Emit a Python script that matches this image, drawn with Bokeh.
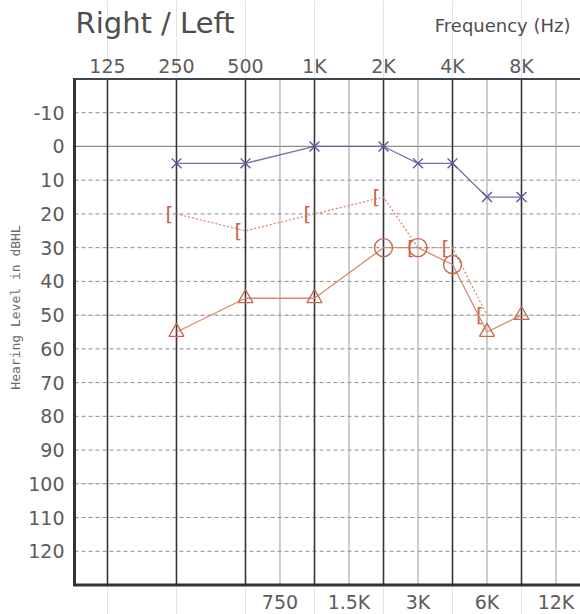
import math
from bokeh.plotting import figure
from bokeh.models import ColumnDataSource, Range1d, LinearAxis, FixedTicker
from bokeh.core.properties import value
from bokeh.embed import file_html
from bokeh.resources import INLINE

# ---------------- data ----------------
LEFT_AIR_HZ = [250, 500, 1000, 2000, 3000, 4000, 6000, 8000]
LEFT_AIR_DB = [5, 5, 0, 0, 5, 5, 15, 15]

RIGHT_BONE_HZ = [250, 500, 1000, 2000, 3000, 4000, 6000]
RIGHT_BONE_DB = [20, 25, 20, 15, 30, 30, 50]

RIGHT_AIR_HZ = [250, 500, 1000, 2000, 3000, 4000, 6000, 8000]
RIGHT_AIR_DB = [55, 45, 45, 30, 30, 35, 55, 50]
RIGHT_AIR_SYMBOL = ["triangle", "triangle", "triangle", "circle",
                    "circle", "circle", "triangle", "triangle"]

TOP_TICK_HZ = [125, 250, 500, 1000, 2000, 4000, 8000]
TOP_TICK_LABELS = ["125", "250", "500", "1K", "2K", "4K", "8K"]
BOTTOM_TICK_HZ = [750, 1500, 3000, 6000, 12000]
BOTTOM_TICK_LABELS = ["750", "1.5K", "3K", "6K", "12K"]
DB_TICKS = [-10, 0, 10, 20, 30, 40, 50, 60, 70, 80, 90, 100, 110, 120]
DB_DASHED = [-10, 10, 20, 30, 40, 50, 60, 70, 80, 90, 100, 110, 120]
DB_SOLID = [0]
DB_MIN, DB_MAX = -20, 130          # chart box limits (dB HL)


def aud_pos(hz):
    """Audiogram frequency scale: octaves from 125 Hz, inter-octave
    frequencies (750, 1.5K, 3K, 6K, 12K) drawn midway between octaves."""
    o = math.log2(hz / 125.0)
    if abs(o - round(o)) < 1e-9:
        return float(round(o))
    return math.floor(o) + 0.5


# ---------------- layout constants ----------------
CHART_LEFT = -0.478      # left edge of the printed chart box (octaves from 125 Hz)
CHART_RIGHT = 7.2        # box runs off the right edge of the page
TITLE_Y = -36.6
FREQ_TITLE_X, FREQ_TITLE_Y = 6.71, -36.0
TOP_LABEL_Y = -24.0
BOTTOM_LABEL_Y = 134.9

BLUE = "#5a5a9c"
RED = "#c8664c"
RED_LINE = "#d88a6c"
TEXT = "#4e4e4e"
TICK_TEXT = "#5c5c5c"
FONT = "DejaVu Sans"

p = figure(width=580, height=614, output_backend="svg", toolbar_location=None,
           x_range=Range1d(-0.536, 6.855), y_range=Range1d(138.75, -43.27),
           x_axis_location=None, y_axis_location=None,
           min_border_left=70, min_border_right=0, min_border_top=0,
           min_border_bottom=0, outline_line_color=None,
           background_fill_color="white", border_fill_color="white")

# ---------------- chart grid ----------------
oct_x = [aud_pos(h) for h in TOP_TICK_HZ]
half_x = [aud_pos(h) for h in BOTTOM_TICK_HZ]

p.segment(x0=[CHART_LEFT] * len(DB_DASHED), x1=[CHART_RIGHT] * len(DB_DASHED),
          y0=DB_DASHED, y1=DB_DASHED, line_color="#8c8c8c", line_width=1,
          line_dash="4 3")
p.segment(x0=[CHART_LEFT] * len(DB_SOLID), x1=[CHART_RIGHT] * len(DB_SOLID),
          y0=DB_SOLID, y1=DB_SOLID, line_color="#8c8c8c", line_width=1.2)
p.segment(x0=half_x, x1=half_x, y0=[DB_MIN] * len(half_x),
          y1=[DB_MAX] * len(half_x), line_color="#9c9c9c", line_width=1)
p.segment(x0=oct_x, x1=oct_x, y0=[DB_MIN] * len(oct_x),
          y1=[DB_MAX] * len(oct_x), line_color="#363636", line_width=1.6)

# chart box (left, top, bottom edges)
p.segment(x0=[CHART_LEFT], x1=[CHART_LEFT], y0=[DB_MIN - 0.3], y1=[DB_MAX + 0.4],
          line_color="#333333", line_width=3)
p.segment(x0=[CHART_LEFT], x1=[CHART_RIGHT], y0=[DB_MIN], y1=[DB_MIN],
          line_color="#3c4650", line_width=2.2)
p.segment(x0=[CHART_LEFT], x1=[CHART_RIGHT], y0=[DB_MAX], y1=[DB_MAX],
          line_color="#333333", line_width=3)

# ---------------- left axis (dB HL) ----------------
left = LinearAxis(ticker=FixedTicker(ticks=DB_TICKS),
                  major_label_overrides={-10: "-10"},
                  axis_label="Hearing Level in dBHL")
left.axis_line_color = None
left.major_tick_out = 0
left.major_tick_in = 0
left.minor_tick_out = 0
left.minor_tick_in = 0
left.major_label_text_font = FONT
left.major_label_text_font_size = "19px"
left.major_label_text_color = TICK_TEXT
left.major_label_standoff = 6
left.axis_label_text_font = "DejaVu Sans Mono"
left.axis_label_text_font_style = "normal"
left.axis_label_text_font_size = "13px"
left.axis_label_text_color = "#6a6a6a"
left.axis_label_standoff = 2
p.add_layout(left, "left")

# ---------------- frequency tick labels ----------------
top_src = ColumnDataSource(dict(x=oct_x, y=[TOP_LABEL_Y] * len(oct_x),
                                text=TOP_TICK_LABELS))
p.text("x", "y", text="text", source=top_src, text_align="center",
       text_baseline="middle", text_font=value(FONT),
       text_font_size="19px", text_color=TICK_TEXT)
bot_src = ColumnDataSource(dict(x=half_x, y=[BOTTOM_LABEL_Y] * len(half_x),
                                text=BOTTOM_TICK_LABELS))
p.text("x", "y", text="text", source=bot_src, text_align="center",
       text_baseline="middle", text_font=value(FONT),
       text_font_size="19px", text_color=TICK_TEXT)

# ---------------- titles ----------------
p.text(x=[CHART_LEFT + 0.015], y=[TITLE_Y], text=["Right / Left"],
       text_align="left", text_baseline="middle", text_font=value(FONT),
       text_font_size="29px", text_color=TEXT)
p.text(x=[FREQ_TITLE_X], y=[FREQ_TITLE_Y], text=["Frequency (Hz)"],
       text_align="right", text_baseline="middle", text_font=value(FONT),
       text_font_size="18px", text_color=TEXT)

# ---------------- data marks ----------------
la = ColumnDataSource(dict(x=[aud_pos(h) for h in LEFT_AIR_HZ], y=LEFT_AIR_DB))
p.line("x", "y", source=la, line_color=BLUE, line_width=1.3, line_alpha=0.85)
p.scatter("x", "y", source=la, marker="x", size=14, line_color=BLUE,
          line_width=1.4)

rb = ColumnDataSource(dict(x=[aud_pos(h) for h in RIGHT_BONE_HZ],
                           y=RIGHT_BONE_DB,
                           t=["["] * len(RIGHT_BONE_HZ)))
p.line("x", "y", source=rb, line_color=RED_LINE, line_width=1.3,
       line_dash="2 2")
p.text("x", "y", text="t", source=rb, x_offset=-7, text_align="center",
       text_baseline="middle", text_font=value(FONT),
       text_font_size="20px", text_color=RED)

ra = ColumnDataSource(dict(x=[aud_pos(h) for h in RIGHT_AIR_HZ],
                           y=RIGHT_AIR_DB))
p.line("x", "y", source=ra, line_color=RED_LINE, line_width=1.3)
tri = ColumnDataSource(dict(
    x=[aud_pos(h) for h, s in zip(RIGHT_AIR_HZ, RIGHT_AIR_SYMBOL) if s == "triangle"],
    y=[d for d, s in zip(RIGHT_AIR_DB, RIGHT_AIR_SYMBOL) if s == "triangle"]))
cir = ColumnDataSource(dict(
    x=[aud_pos(h) for h, s in zip(RIGHT_AIR_HZ, RIGHT_AIR_SYMBOL) if s == "circle"],
    y=[d for d, s in zip(RIGHT_AIR_DB, RIGHT_AIR_SYMBOL) if s == "circle"]))
p.scatter("x", "y", source=tri, marker="triangle", size=15, fill_color=None,
          line_color=RED, line_width=1.3)
p.scatter("x", "y", source=cir, marker="circle", size=18, fill_color=None,
          line_color=RED, line_width=1.4)

open("out.html", "w").write(file_html(p, INLINE))
